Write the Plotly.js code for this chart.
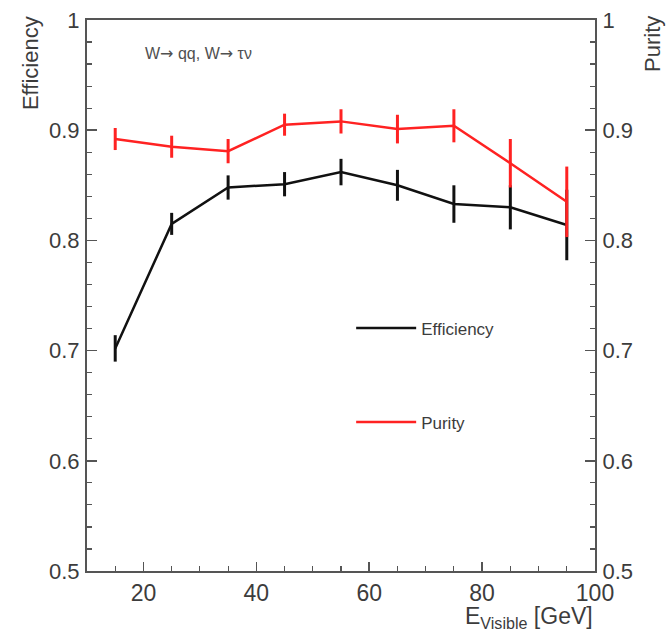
<!DOCTYPE html>
<html>
<head>
<meta charset="utf-8">
<script src="https://cdn.plot.ly/plotly-3.0.1.min.js"></script>
<style>html,body{margin:0;padding:0;background:#fff;}#chart{width:666px;height:631px;}</style>
</head>
<body>
<div id="chart"></div>
<script>
const energy = [15, 25, 35, 45, 55, 65, 75, 85, 95];
const efficiency = [0.702, 0.815, 0.848, 0.851, 0.862, 0.850, 0.833, 0.830, 0.814];
const efficiencyErr = [0.012, 0.010, 0.011, 0.011, 0.012, 0.014, 0.017, 0.020, 0.032];
const purity = [0.892, 0.885, 0.881, 0.905, 0.908, 0.901, 0.904, 0.870, 0.835];
const purityErr = [0.010, 0.010, 0.011, 0.010, 0.011, 0.013, 0.015, 0.022, 0.032];
const yTicks = [0.5, 0.6, 0.7, 0.8, 0.9, 1];
const yTickText = ['0.5', '0.6', '0.7', '0.8', '0.9', '1'];
const xTicks = [20, 40, 60, 80, 100];

const textCol = '#3c3c3c';
const axisCol = '#555555';
const font = 'Liberation Sans, Arial, sans-serif';

const traces = [
  {
    x: energy, y: efficiency, name: 'Efficiency', type: 'scatter', mode: 'lines',
    line: {color: '#111111', width: 2.5},
    error_y: {type: 'data', array: efficiencyErr, visible: true, width: 0, thickness: 3, color: '#111111'},
    legendgroup: 'a'
  },
  {
    x: energy, y: purity, name: 'Purity', type: 'scatter', mode: 'lines',
    line: {color: '#ff2222', width: 2.5},
    error_y: {type: 'data', array: purityErr, visible: true, width: 0, thickness: 3, color: '#ff2222'},
    legendgroup: 'b'
  },
  {
    x: [energy[0]], y: [purity[0]], yaxis: 'y2', type: 'scatter', mode: 'markers',
    marker: {opacity: 0}, showlegend: false, hoverinfo: 'skip'
  }
];

const yAxisCommon = {
  range: [0.5, 1], tickvals: yTicks, ticktext: yTickText,
  ticks: 'inside', ticklen: 10, tickwidth: 1.5, tickcolor: axisCol,
  showline: true, linecolor: axisCol, linewidth: 2,
  showgrid: false, zeroline: false,
  tickfont: {family: font, size: 22, color: textCol},
  minor: {ticks: 'inside', dtick: 0.02, ticklen: 5, tickwidth: 1.2, tickcolor: axisCol, showgrid: false},
  ticklabelstandoff: 1
};

const layout = {
  width: 666, height: 631,
  margin: {l: 87, r: 71, t: 20, b: 60},
  paper_bgcolor: '#ffffff', plot_bgcolor: '#ffffff',
  font: {family: font, color: textCol},
  xaxis: {
    range: [10, 100], tickvals: xTicks,
    ticks: 'inside', ticklen: 9, tickwidth: 1.5, tickcolor: axisCol,
    showline: true, linecolor: axisCol, linewidth: 2, mirror: true,
    showgrid: false, zeroline: false,
    tickfont: {family: font, size: 23, color: textCol},
    minor: {ticks: 'inside', dtick: 5, ticklen: 5, tickwidth: 1.2, tickcolor: axisCol, showgrid: false}
  },
  yaxis: Object.assign({}, yAxisCommon),
  yaxis2: Object.assign({}, yAxisCommon, {overlaying: 'y', side: 'right'}),
  showlegend: true,
  legend: {
    x: 0.52, y: 0.473, xanchor: 'left', yanchor: 'top',
    bgcolor: 'rgba(0,0,0,0)', borderwidth: 0,
    traceorder: 'grouped', tracegroupgap: 69, itemwidth: 60,
    font: {family: font, size: 17, color: textCol}
  },
  annotations: [
    {text: 'Efficiency', xref: 'paper', yref: 'paper', x: -0.112, y: 1, yshift: 6,
     xanchor: 'center', yanchor: 'top', textangle: -90, showarrow: false,
     font: {family: font, size: 22, color: textCol}},
    {text: 'Purity', xref: 'paper', yref: 'paper', x: 1.112, y: 1, yshift: 6,
     xanchor: 'center', yanchor: 'top', textangle: -90, showarrow: false,
     font: {family: font, size: 22, color: textCol}},
    {text: 'E<sub>Visible</sub> [GeV]', xref: 'paper', yref: 'paper', x: 1, y: 0, yshift: -30,
     xanchor: 'right', yanchor: 'top', showarrow: false,
     font: {family: font, size: 23, color: textCol}},
    {text: 'W<span style="font-family:DejaVu Sans">\u2192</span> qq, W<span style="font-family:DejaVu Sans">\u2192</span> \u03c4\u03bd',
     xref: 'paper', yref: 'paper', x: 0.11, y: 0.94,
     xanchor: 'left', yanchor: 'middle', showarrow: false,
     font: {family: font, size: 16, color: '#505050'}}
  ]
};

Plotly.newPlot('chart', traces, layout, {displayModeBar: false, staticPlot: true});
</script>
</body>
</html>
